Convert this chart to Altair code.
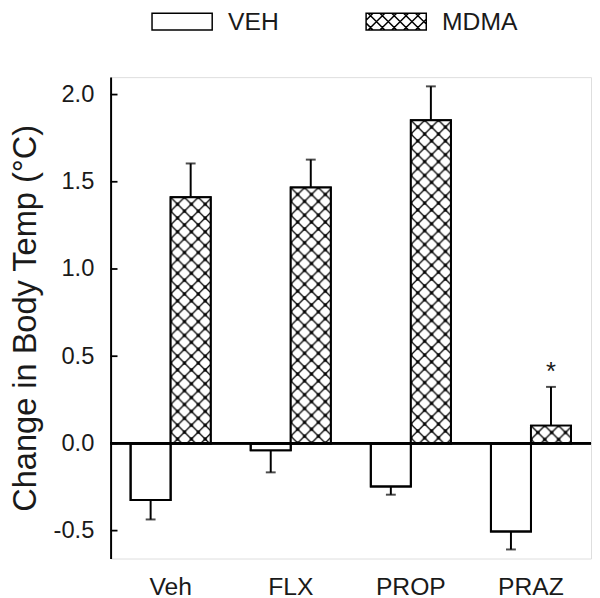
import base64
import altair as alt
import pandas as pd

# ---------------- data ----------------
drugs = ["Veh", "FLX", "PROP", "PRAZ"]
treatments = ["VEH", "MDMA"]
veh_mean = [-0.325, -0.04, -0.247, -0.505]
veh_sem = [0.111, 0.126, 0.047, 0.103]
mdma_mean = [1.411, 1.467, 1.853, 0.102]
mdma_sem = [0.194, 0.160, 0.194, 0.222]
mdma_sig = ["", "", "", "*"]
y_ticks = [-0.5, 0.0, 0.5, 1.0, 1.5, 2.0]

rows = []
for i, d in enumerate(drugs):
    rows.append(dict(drug=d, treatment="VEH", mean=veh_mean[i], sem=veh_sem[i], sig=""))
    rows.append(dict(drug=d, treatment="MDMA", mean=mdma_mean[i], sem=mdma_sem[i], sig=mdma_sig[i]))
df = pd.DataFrame(rows)
tick_df = pd.DataFrame({"t": y_ticks})

FONT = "Liberation Sans"
TXT = "#1a1a1a"
YTITLE = "Change in Body Temp (°C)"
W, H = 487, 488

# cross-hatch texture as an SVG image (style only)
A = 14
hatch_svg = (
    '<svg xmlns="http://www.w3.org/2000/svg">'
    f'<defs><pattern id="h" width="{A}" height="{A}" patternUnits="userSpaceOnUse">'
    f'<rect width="{A}" height="{A}" fill="white"/>'
    f'<path d="M0,0L{A},{A}M{A},0L0,{A}" stroke="black" stroke-width="1.3"/>'
    f'<circle cx="{A/2}" cy="{A/2}" r="1.8"/>'
    '<circle cx="0" cy="0" r="1.8"/>'
    f'<circle cx="{A}" cy="0" r="1.8"/>'
    f'<circle cx="0" cy="{A}" r="1.8"/>'
    f'<circle cx="{A}" cy="{A}" r="1.8"/>'
    '</pattern></defs><rect width="100%" height="100%" fill="url(#h)"/></svg>'
)
hatch_uri = "data:image/svg+xml;base64," + base64.b64encode(hatch_svg.encode()).decode()

# legend symbol paths (unit = 8.5 px)
s = 8.5
hw, hh = 30.5 / s, 1.0
p_veh = f"M{-hw:.3f},{-hh}L{hw:.3f},{-hh}L{hw:.3f},{hh}L{-hw:.3f},{hh}Z"
segs = []
px_w, px_h = 30.5, 8.5
step = 12
for c in range(-80, 81, step):
    for sgn in (1, -1):
        pts = []
        for yy in (-px_h, px_h):
            xx = c + sgn * yy
            if -px_w <= xx <= px_w:
                pts.append((xx, yy))
        for xx in (-px_w, px_w):
            yy = (xx - c) * sgn
            if -px_h <= yy <= px_h:
                pts.append((xx, yy))
        if len(pts) >= 2:
            (x1, y1), (x2, y2) = pts[0], pts[1]
            segs.append(f"M{x1/s:.3f},{y1/s:.3f}L{x2/s:.3f},{y2/s:.3f}")
p_mdma = p_veh + "".join(segs)

# ---------------- encodings ----------------
x_enc = alt.X(
    "drug:N", sort=drugs,
    scale=alt.Scale(paddingInner=1 / 3, paddingOuter=1 / 6),
    axis=alt.Axis(title=None, labelAngle=0, domain=False, ticks=False,
                  labelFont=FONT, labelFontSize=25, labelColor=TXT, labelPadding=16),
)
xo_enc = alt.XOffset("treatment:N", sort=treatments,
                     scale=alt.Scale(paddingInner=0, paddingOuter=0))
y_scale = alt.Scale(domain=[-0.66, 2.1], nice=False, zero=False)
y_axis = alt.Axis(
    values=y_ticks, ticks=False, tickSize=0, grid=False,
    labelExpr="datum.value < 0 ? '-' + format(-datum.value, '.1f') : format(datum.value, '.1f')",
    domainColor="black", domainWidth=2,
    labelFont=FONT, labelFontSize=24, labelColor=TXT, labelPadding=17,
    title=YTITLE, titleFont=FONT, titleFontSize=33, titleFontWeight="normal",
    titleColor=TXT, titlePadding=11,
)
y_enc = alt.Y("mean:Q", scale=y_scale, axis=y_axis, title=YTITLE)

base = alt.Chart(df)

bars = base.mark_bar(fill="white", stroke="black", strokeWidth=2).encode(
    x=x_enc, xOffset=xo_enc, y=y_enc, y2=alt.datum(0)
)
hatch = base.transform_filter("datum.treatment == 'MDMA'").mark_image(aspect=False).encode(
    x=x_enc, xOffset=xo_enc, y=y_enc, y2=alt.datum(0), url=alt.value(hatch_uri)
)
outline = base.mark_bar(fill="white", fillOpacity=0, stroke="black", strokeWidth=2).encode(
    x=x_enc, xOffset=xo_enc, y=y_enc, y2=alt.datum(0)
)
err = base.transform_calculate(
    end="datum.mean + (datum.mean >= 0 ? datum.sem : -datum.sem)"
)
err_line = err.mark_rule(color="black", strokeWidth=2).encode(
    x=x_enc, xOffset=xo_enc, y=y_enc, y2="end:Q"
)
err_cap = err.mark_tick(color="black", size=10, thickness=2, orient="horizontal").encode(
    x=x_enc, xOffset=xo_enc, y=alt.Y("end:Q", scale=y_scale, title=YTITLE)
)
star = err.transform_filter("datum.sig != ''").mark_text(
    font=FONT, fontSize=26, color=TXT, baseline="alphabetic", dy=-7
).encode(x=x_enc, xOffset=xo_enc, y=alt.Y("end:Q", scale=y_scale, title=YTITLE), text="sig:N")

zero = base.mark_rule(color="black", strokeWidth=1.8).encode(y=alt.datum(0))

inner_ticks = alt.Chart(tick_df).mark_rule(color="black", strokeWidth=1.8).encode(
    y=alt.Y("t:Q", scale=y_scale, title=YTITLE), x=alt.value(0), x2=alt.value(7)
)

legend_layer = base.transform_filter("false").mark_point(
    filled=False, color="black", strokeWidth=1.5, size=289, opacity=1
).encode(
    x=x_enc, y=y_enc,
    shape=alt.Shape(
        "treatment:N",
        scale=alt.Scale(domain=treatments, range=[p_veh, p_mdma]),
        legend=alt.Legend(
            title=None, orient="none", legendX=60, legendY=-69, direction="horizontal",
            symbolSize=289, symbolFillColor="white", symbolStrokeColor="black",
            symbolStrokeWidth=1.5, symbolOpacity=1,
            labelFont=FONT, labelFontSize=25, labelColor=TXT,
            labelOffset=34, columnPadding=85,
        ),
    ),
)

chart = alt.layer(
    bars, hatch, outline, zero, err_line, err_cap, star, inner_ticks, legend_layer
).properties(
    width=W, height=H,
    autosize=alt.AutoSizeParams(type="none"),
    padding={"left": 104, "top": 66, "right": 1, "bottom": 40},
).configure_view(stroke=None).configure(background="white")

chart.save("out.html", embed_options={"renderer": "svg", "actions": False})
